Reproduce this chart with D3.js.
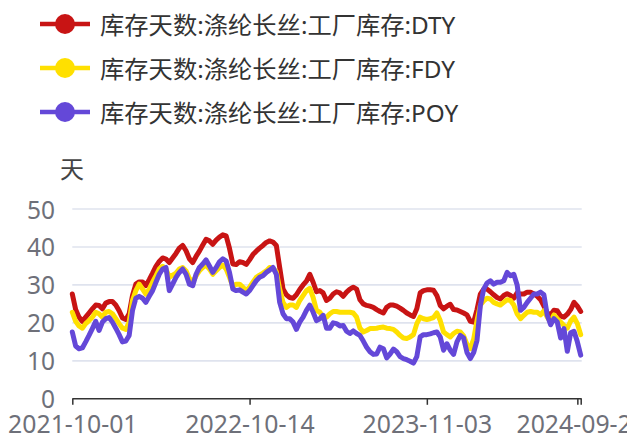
<!DOCTYPE html>
<html>
<head>
<meta charset="utf-8">
<script src="https://cdn.jsdelivr.net/npm/d3@7/dist/d3.min.js"></script>
<style>
  html, body { margin: 0; padding: 0; background: #fff; }
  svg { display: block; font-family: "Noto Sans", "Noto Sans CJK SC", sans-serif; }
</style>
</head>
<body>
<svg id="chart" width="627" height="439"></svg>
<script>
/* weekly Friday dates, a few holiday weeks missing */
const startDate = "2021-10-01";
const skippedWeeks = ["2022-02-04", "2023-01-20", "2023-01-27"];
const pointCount = 153;

const seriesNames = [
  "库存天数:涤纶长丝:工厂库存:DTY",
  "库存天数:涤纶长丝:工厂库存:FDY",
  "库存天数:涤纶长丝:工厂库存:POY"
];
const seriesColors = ["#c81414", "#ffe000", "#6448d8"];

const dtyValues = [
  27.6, 23.5, 21.5, 20.4, 21.5, 22.6, 23.7, 24.7, 24.6, 23.7,
  25.2, 25.6, 25.6, 24.7, 23.2, 21.3, 20.9, 22.4, 27.2, 30.2,
  30.8, 30.8, 29.8, 31.4, 33.1, 34.9, 36.2, 37.1, 36.8, 35.9,
  37.1, 38.3, 39.7, 40.4, 39.0, 36.9, 35.9, 37.5, 38.9, 40.5,
  42.0, 41.6, 40.7, 41.8, 42.6, 43.2, 42.9, 39.6, 35.5, 35.4,
  36.1, 35.9, 35.4, 36.6, 38.0, 38.9, 39.7, 40.4, 41.2, 41.6,
  41.3, 40.4, 34.6, 28.9, 27.4, 26.7, 26.5, 27.4, 28.8, 30.0,
  31.0, 32.8, 30.7, 28.2, 28.5, 27.9, 25.9, 26.5, 27.6, 28.2,
  27.9, 27.0, 28.1, 28.9, 29.4, 28.9, 26.1, 25.0, 24.6, 24.4,
  24.1, 23.5, 23.0, 22.6, 24.1, 24.7, 24.7, 24.4, 23.9, 23.3,
  22.6, 22.1, 21.7, 23.7, 27.9, 28.5, 28.7, 28.7, 28.6, 27.2,
  24.6, 23.7, 24.4, 24.9, 23.5, 23.4, 23.0, 22.6, 22.1, 20.4,
  20.2, 23.5, 27.6, 28.9, 28.9, 28.2, 27.4, 26.7, 26.3, 27.2,
  27.7, 27.2, 26.5, 27.9, 27.6, 27.6, 28.1, 28.1, 27.6, 27.0,
  26.1, 24.4, 22.6, 22.1, 23.3, 23.2, 21.8, 21.5, 22.3, 23.5,
  25.4, 24.4, 23.0
];
const fdyValues = [
  22.8, 20.4, 19.2, 18.6, 19.8, 20.6, 21.5, 22.8, 22.4, 21.5,
  22.8, 23.0, 22.4, 21.1, 19.8, 18.6, 18.3, 20.2, 25.9, 28.5,
  30.2, 28.9, 27.6, 28.9, 30.7, 32.4, 34.2, 34.9, 34.2, 32.0,
  32.6, 33.1, 34.2, 34.6, 33.7, 31.7, 30.7, 32.4, 33.7, 34.6,
  35.2, 34.2, 32.8, 33.7, 34.6, 35.2, 34.2, 32.0, 29.6, 30.2,
  30.2, 29.4, 28.5, 29.4, 30.7, 32.0, 32.6, 33.1, 33.7, 34.6,
  34.3, 33.5, 28.9, 25.4, 24.1, 24.7, 24.7, 24.1, 25.9, 27.2,
  28.5, 29.1, 26.7, 23.3, 22.8, 21.5, 21.5, 22.4, 23.0, 23.0,
  22.8, 22.8, 22.8, 22.8, 22.6, 21.5, 18.6, 17.6, 18.0, 18.5,
  18.5, 18.6, 18.8, 18.9, 18.6, 18.5, 18.3, 17.6, 16.7, 16.0,
  15.9, 16.3, 16.9, 19.8, 21.5, 21.1, 20.9, 21.1, 21.4, 22.6,
  20.6, 17.6, 16.9, 16.3, 17.2, 17.8, 17.6, 16.6, 14.3, 13.2,
  15.7, 20.6, 24.7, 25.8, 26.5, 26.3, 25.4, 25.0, 24.7, 25.4,
  26.1, 25.9, 24.7, 22.4, 21.1, 22.0, 22.8, 23.0, 22.8, 22.8,
  22.1, 23.2, 21.5, 20.2, 22.1, 21.1, 20.2, 19.3, 18.6, 20.5,
  21.5, 19.8, 16.9
];
const poyValues = [
  17.6, 13.9, 13.2, 13.4, 15.0, 16.7, 18.5, 20.4, 18.0, 20.2,
  21.1, 21.4, 20.2, 18.6, 16.9, 15.0, 15.2, 16.7, 23.3, 26.5,
  27.0, 26.5, 25.4, 27.0, 28.5, 30.7, 32.8, 34.2, 34.6, 28.5,
  30.2, 32.0, 33.3, 34.2, 32.8, 30.2, 29.8, 32.8, 34.6, 35.5,
  36.6, 35.0, 33.3, 34.6, 36.1, 36.9, 36.3, 33.3, 28.9, 28.5,
  28.7, 28.1, 27.6, 28.5, 29.8, 31.1, 32.0, 32.4, 33.3, 33.9,
  34.6, 32.8, 25.4, 22.4, 21.1, 21.1, 20.2, 18.3, 20.2, 21.5,
  23.3, 24.7, 22.8, 20.6, 21.1, 22.0, 18.6, 18.6, 20.0, 19.8,
  19.2, 19.3, 17.8, 17.2, 17.9, 17.2, 16.7, 15.2, 13.6, 12.4,
  11.7, 11.8, 13.6, 13.2, 10.8, 11.8, 13.1, 12.4, 11.1, 10.6,
  10.3, 9.9, 9.4, 11.1, 16.3, 16.9, 16.9, 17.1, 17.4, 17.6,
  16.3, 12.8, 14.5, 12.8, 11.7, 15.0, 16.7, 16.0, 12.2, 10.6,
  12.2, 15.4, 24.6, 28.9, 30.5, 31.1, 30.2, 30.7, 30.7, 31.1,
  33.3, 32.4, 32.8, 30.0, 23.3, 24.1, 25.4, 26.5, 27.6, 27.6,
  28.1, 27.4, 22.0, 19.5, 21.1, 20.2, 16.0, 18.5, 12.5, 17.4,
  17.8, 15.0, 11.5
];

const yTicks = [0, 10, 20, 30, 40, 50];
const labelIndex = [0, 53, 106, 152];
const extraTickIndex = [151];
const yUnit = "天";

/* build the category dates */
function buildDates() {
  let out = [], d = new Date(startDate + "T00:00:00Z");
  while (out.length < pointCount) {
    let s = d.toISOString().slice(0, 10);
    if (skippedWeeks.indexOf(s) < 0)
      out.push(s);
    d = new Date(d.getTime() + 7 * 86400000);
  }
  return out;
}
const dates = buildDates();

const svg = d3.select("#chart");
const margin = { left: 72.3, right: 46.3 };
const plotW = 627 - margin.left - margin.right,
  y0 = 398.8, y50 = 209;

const x = d3.scalePoint().domain(dates).range([margin.left, margin.left + plotW]);
const y = d3.scaleLinear().domain([0, 50]).range([y0, y50]);

// grid
svg.append("g").attr("class", "grid")
  .selectAll("line")
  .data(yTicks.filter(d => d > 0))
  .enter().append("line")
  .attr("x1", margin.left).attr("x2", margin.left + plotW + 1)
  .attr("y1", d => y(d)).attr("y2", d => y(d))
  .attr("stroke", "#dfe3ee").attr("stroke-width", 1.6);

// y labels
svg.append("g").attr("class", "y-labels")
  .selectAll("text")
  .data(yTicks)
  .enter().append("text")
  .attr("x", 55).attr("y", d => y(d))
  .attr("text-anchor", "end").attr("dominant-baseline", "central")
  .attr("fill", "#6e7079").attr("font-size", 24.5)
  .text(d => d);

svg.append("text")
  .attr("x", 72).attr("y", 167)
  .attr("text-anchor", "middle").attr("dominant-baseline", "central")
  .attr("fill", "#444").attr("font-size", 24)
  .attr("font-family", "Noto Sans CJK SC")
  .text(yUnit);

// x axis
const xAxis = d3.axisBottom(x)
  .tickValues(labelIndex.concat(extraTickIndex).map(i => dates[i]))
  .tickSize(6).tickSizeOuter(0)
  .tickFormat(d => extraTickIndex.some(i => dates[i] === d) ? "" : d);
const gx = svg.append("g")
  .attr("transform", "translate(0," + y0 + ")")
  .call(xAxis);
gx.select(".domain").attr("stroke", "#333").attr("stroke-width", 1.5)
  .attr("d", "M" + margin.left + ",0H" + (margin.left + plotW + 1));
gx.selectAll(".tick line").attr("stroke", "#333").attr("stroke-width", 1.5);
gx.selectAll(".tick text")
  .attr("fill", "#6e7079").attr("font-size", 24.8).attr("dy", "1.0em")
  .attr("font-family", "Noto Sans");

// series
const allSeries = [dtyValues, fdyValues, poyValues];
const line = d3.line()
  .x((d, i) => x(dates[i]))
  .y(d => y(d));
svg.append("g").attr("class", "series")
  .selectAll("path")
  .data(allSeries)
  .enter().append("path")
  .attr("d", line)
  .attr("fill", "none")
  .attr("stroke", (d, i) => seriesColors[i])
  .attr("stroke-width", 5)
  .attr("stroke-linejoin", "round")
  .attr("stroke-linecap", "round");

// legend
const legend = svg.append("g").attr("class", "legend")
  .selectAll("g")
  .data(seriesNames)
  .enter().append("g")
  .attr("transform", (d, i) => "translate(0," + (24 + i * 44) + ")");
legend.append("line")
  .attr("x1", 40).attr("x2", 90)
  .attr("stroke", (d, i) => seriesColors[i]).attr("stroke-width", 4.5);
legend.append("circle")
  .attr("cx", 65).attr("r", 10)
  .attr("fill", (d, i) => seriesColors[i]);
legend.append("text")
  .attr("x", 100).attr("dominant-baseline", "central")
  .attr("fill", "#333").attr("font-size", 24.3)
  .text(d => d);
</script>
</body>
</html>
